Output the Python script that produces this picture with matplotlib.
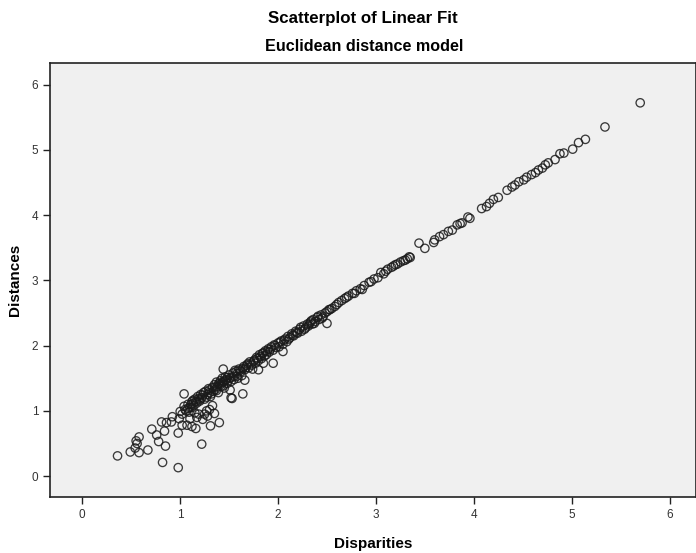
import matplotlib
matplotlib.use("Agg")
import matplotlib.pyplot as plt

plt.rcParams['font.family'] = ['Liberation Sans', 'DejaVu Sans']

# Disparities / distances, lower-left scatter first
scatter_x = [0.36, 0.49, 0.54, 0.58, 0.55, 0.58, 0.56, 0.67, 0.71, 0.76,
             0.78, 0.81, 0.84, 0.85, 0.82, 0.98, 0.86, 0.92, 0.91, 0.98,
             0.99, 1.00, 1.04, 1.02, 1.07, 1.12, 1.16, 1.22, 1.10, 1.23,
             1.20, 1.13, 1.08, 1.04, 1.40, 1.31, 1.64, 1.52, 1.02, 1.06,
             1.09, 1.12, 1.15, 1.17, 1.19, 1.25, 1.27, 1.30, 1.28, 1.35,
             1.33, 1.44, 1.53, 1.51, 1.66, 1.80, 1.85, 1.95, 2.05, 2.50]
scatter_y = [0.31, 0.37, 0.43, 0.36, 0.54, 0.60, 0.50, 0.40, 0.72, 0.63,
             0.53, 0.83, 0.69, 0.46, 0.21, 0.13, 0.82, 0.91, 0.83, 0.66,
             0.88, 0.99, 1.26, 0.78, 0.78, 0.76, 0.73, 0.49, 0.88, 0.87,
             1.17, 1.11, 1.04, 1.07, 0.82, 0.77, 1.26, 1.20, 0.95, 1.00,
             0.98, 1.05, 0.97, 0.90, 0.95, 0.95, 1.00, 1.02, 0.92, 0.96,
             1.08, 1.64, 1.19, 1.32, 1.47, 1.63, 1.73, 1.73, 1.91, 2.34]

# main band
band_x = [1.05, 1.08, 1.10, 1.12, 1.14, 1.15, 1.17, 1.18, 1.20, 1.21,
          1.22, 1.24, 1.25, 1.26, 1.28, 1.29, 1.30, 1.31, 1.33, 1.34,
          1.35, 1.36, 1.37, 1.38, 1.39, 1.40, 1.41, 1.42, 1.43, 1.44,
          1.45, 1.46, 1.47, 1.48, 1.50, 1.51, 1.52, 1.54, 1.55, 1.56,
          1.58, 1.59, 1.60, 1.62, 1.63, 1.65, 1.66, 1.68, 1.70, 1.71,
          1.73, 1.74, 1.76, 1.77, 1.78, 1.80, 1.81, 1.83, 1.84, 1.86,
          1.87, 1.88, 1.90, 1.91, 1.93, 1.95, 1.96, 1.98, 2.00, 2.01,
          2.03, 2.05, 2.07, 2.09, 2.10, 2.12, 2.14, 2.16, 2.18, 2.20,
          2.22, 2.24, 2.26, 2.28, 2.30, 2.31, 2.33, 2.35, 2.36, 2.38,
          2.40, 2.42, 2.44, 2.46, 2.48, 2.52, 2.55, 2.58, 2.62, 2.65,
          2.68, 2.72, 2.76, 2.80, 2.84, 2.88, 2.93, 2.98, 3.02, 3.05,
          3.10, 3.12, 3.16, 3.18, 3.22, 3.25, 3.28, 3.30, 3.32, 3.34,
          1.11, 1.13, 1.16, 1.19, 1.23, 1.27, 1.30, 1.32, 1.35, 1.37,
          1.39, 1.41, 1.43, 1.44, 1.46, 1.48, 1.49, 1.53, 1.55, 1.57,
          1.58, 1.61, 1.64, 1.67, 1.69, 1.72, 1.75, 1.79, 1.82, 1.85,
          1.89, 1.92, 1.97, 2.02, 2.06, 2.11, 2.15, 2.19, 2.23, 2.27,
          2.32, 2.34, 2.37, 2.41, 2.45, 2.50, 2.53, 2.60, 2.70, 2.78,
          2.86, 2.95, 3.08, 3.20]
band_y = [1.02, 1.10, 1.05, 1.14, 1.08, 1.18, 1.12, 1.22, 1.15, 1.25,
          1.20, 1.28, 1.18, 1.30, 1.25, 1.34, 1.28, 1.22, 1.36, 1.30,
          1.40, 1.33, 1.44, 1.37, 1.28, 1.42, 1.46, 1.38, 1.50, 1.45,
          1.35, 1.52, 1.48, 1.42, 1.55, 1.50, 1.45, 1.58, 1.53, 1.62,
          1.57, 1.50, 1.64, 1.60, 1.54, 1.68, 1.63, 1.70, 1.66, 1.75,
          1.70, 1.64, 1.78, 1.73, 1.82, 1.77, 1.86, 1.80, 1.88, 1.84,
          1.92, 1.86, 1.95, 1.90, 1.98, 1.93, 2.01, 1.97, 2.04, 1.98,
          2.07, 2.02, 2.10, 2.06, 2.14, 2.12, 2.18, 2.15, 2.22, 2.19,
          2.25, 2.22, 2.30, 2.27, 2.33, 2.30, 2.36, 2.33, 2.40, 2.37,
          2.43, 2.40, 2.47, 2.44, 2.50, 2.55, 2.57, 2.60, 2.66, 2.69,
          2.72, 2.76, 2.80, 2.84, 2.87, 2.92, 2.97, 3.02, 3.04, 3.12,
          3.14, 3.17, 3.20, 3.22, 3.25, 3.28, 3.30, 3.31, 3.33, 3.36,
          1.10, 1.16, 1.14, 1.19, 1.24, 1.21, 1.32, 1.26, 1.36, 1.31,
          1.41, 1.40, 1.43, 1.38, 1.46, 1.51, 1.46, 1.52, 1.48, 1.60,
          1.53, 1.62, 1.65, 1.66, 1.72, 1.72, 1.76, 1.80, 1.83, 1.89,
          1.91, 1.94, 2.00, 2.05, 2.08, 2.10, 2.16, 2.20, 2.28, 2.25,
          2.33, 2.38, 2.34, 2.45, 2.42, 2.52, 2.55, 2.63, 2.74, 2.80,
          2.86, 2.98, 3.10, 3.24]

# upper tail
upper_x = [3.35, 3.44, 3.50, 3.59, 3.60, 3.65, 3.69, 3.74, 3.78, 3.83,
           3.86, 3.88, 3.94, 3.96, 4.08, 4.13, 4.16, 4.20, 4.25, 4.34,
           4.39, 4.42, 4.46, 4.51, 4.54, 4.59, 4.63, 4.66, 4.70, 4.73,
           4.76, 4.83, 4.88, 4.92, 5.01, 5.07, 5.14, 5.34, 5.70]
upper_y = [3.35, 3.57, 3.49, 3.58, 3.62, 3.67, 3.70, 3.75, 3.77, 3.85,
           3.87, 3.88, 3.97, 3.95, 4.10, 4.13, 4.18, 4.24, 4.27, 4.38,
           4.43, 4.46, 4.51, 4.54, 4.58, 4.62, 4.65, 4.69, 4.72, 4.77,
           4.80, 4.85, 4.94, 4.95, 5.01, 5.11, 5.16, 5.35, 5.72]

ticks = [0, 1, 2, 3, 4, 5, 6]

fig = plt.figure(figsize=(6.96, 5.53), dpi=100)
ax = fig.add_axes([50 / 696, 56 / 553, 646 / 696, 434 / 553])
ax.set_facecolor('#f0f0f0')

xs = scatter_x + band_x + upper_x
ys = scatter_y + band_y + upper_y
ax.scatter(xs, ys, s=36, facecolors='none', edgecolors='#1a1a1a',
           linewidths=0.95, alpha=0.85)

ax.set_xlim(-0.33, 6.27)
ax.set_ylim(-0.32, 6.33)
ax.set_xticks(ticks)
ax.set_yticks(ticks)
ax.tick_params(direction='out', length=5, width=1, colors='#222222',
               labelsize=8.5, labelcolor='#333333')
for side in ['left', 'bottom', 'top', 'right']:
    ax.spines[side].set_linewidth(1.2)
    ax.spines[side].set_color('#222222')

ax.set_xlabel('Disparities', fontsize=11, fontweight='bold', labelpad=12)
ax.set_ylabel('Distances', fontsize=11, fontweight='bold', labelpad=7)

fig.text(0.521, 1 - 18 / 553, 'Scatterplot of Linear Fit', ha='center',
         va='center', fontsize=12.2, fontweight='bold')
fig.text(0.523, 1 - 47 / 553, 'Euclidean distance model', ha='center',
         va='center', fontsize=11.6, fontweight='bold')

fig.savefig('out.png', dpi=100)
